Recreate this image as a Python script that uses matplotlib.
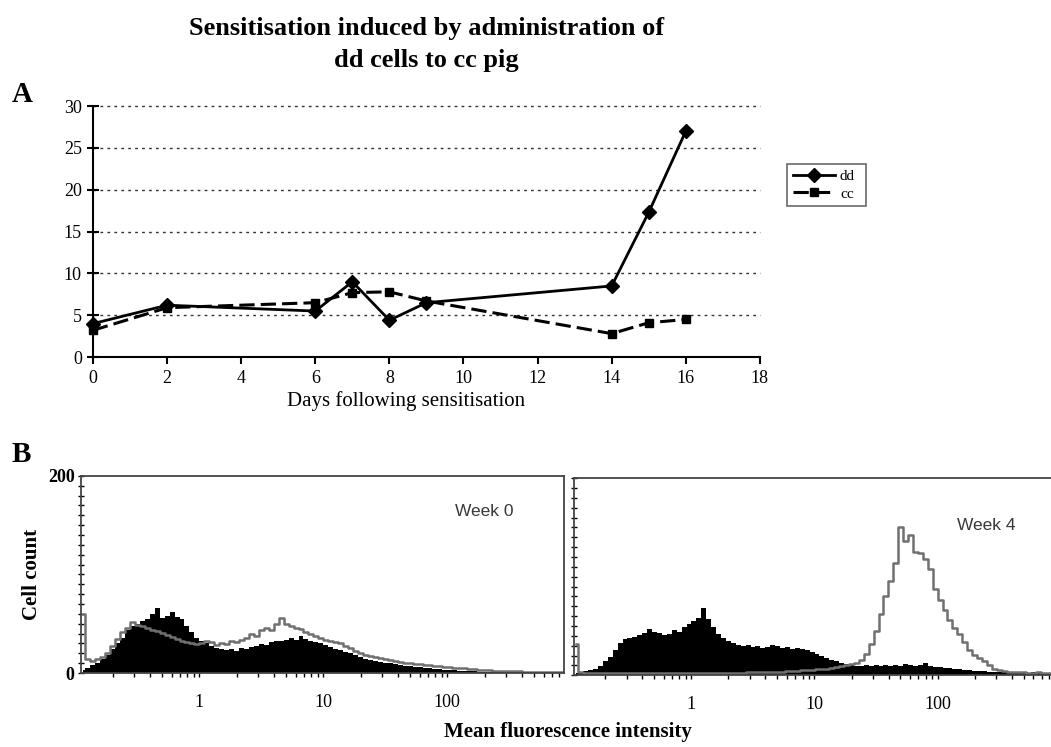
import numpy as np
import matplotlib
matplotlib.use('Agg')
import matplotlib.pyplot as plt
from matplotlib.ticker import LogLocator, NullFormatter, FixedLocator, MultipleLocator

plt.rcParams['font.family'] = ['Liberation Serif', 'DejaVu Serif']

# panel A: days following sensitisation
days = [0, 2, 6, 7, 8, 9, 14, 15, 16]
dd_vals = [4.0, 6.2, 5.5, 9.0, 4.4, 6.5, 8.5, 17.3, 27.0]
cc_vals = [3.2, 5.9, 6.5, 7.7, 7.8, 6.7, 2.8, 4.1, 4.5]

# panel B: histogram channels (log10 of fluorescence, bin centres)
log_start = -0.94
log_step = 0.04

week0_black = [3, 5, 8, 10, 14, 18, 24, 30, 36, 44,
               48, 50, 53, 55, 60, 66, 56, 58, 62, 57,
               55, 48, 42, 36, 32, 30, 27, 25, 24, 23,
               24, 22, 25, 24, 26, 27, 29, 28, 31, 32,
               33, 34, 36, 34, 38, 35, 33, 31, 30, 28,
               26, 24, 23, 21, 20, 18, 16, 14, 13, 12,
               11, 10, 10, 9, 8, 7, 7, 6, 6, 5,
               5, 4, 4, 3, 3, 3, 2, 2, 2, 2,
               1, 1, 1, 1, 1, 1, 1, 1, 1, 1,
               1, 1, 1, 1, 1, 1, 1, 1]
week0_grey = [60, 14, 12, 14, 16, 20, 27, 35, 42, 46,
              52, 49, 48, 46, 44, 43, 41, 39, 37, 35,
              33, 31, 30, 29, 30, 33, 31, 28, 30, 29,
              32, 31, 34, 36, 40, 38, 44, 46, 44, 50,
              56, 50, 48, 46, 45, 42, 40, 38, 36, 34,
              33, 31, 30, 27, 25, 22, 20, 18, 17, 16,
              15, 14, 13, 12, 11, 10, 10, 9, 9, 8,
              8, 7, 7, 6, 6, 5, 5, 5, 4, 4,
              3, 3, 3, 2, 2, 2, 2, 2, 2, 1,
              1, 1, 1, 1, 1, 1, 1, 1]
week4_black = [2, 3, 4, 5, 6, 9, 14, 19, 26, 33,
               37, 38, 39, 41, 43, 47, 44, 43, 41, 42,
               46, 44, 49, 52, 55, 58, 68, 57, 49, 42,
               38, 35, 33, 31, 30, 31, 29, 30, 28, 29,
               31, 30, 28, 29, 27, 28, 27, 26, 24, 22,
               20, 18, 16, 14, 12, 11, 10, 9, 9, 10,
               9, 10, 9, 10, 9, 10, 9, 11, 10, 9,
               10, 12, 9, 8, 8, 7, 7, 6, 6, 5,
               5, 4, 4, 4, 3, 3, 3, 3, 3, 2,
               3, 2, 2, 3, 2, 2, 2, 2]
week4_grey = [32, 3, 2, 2, 2, 2, 2, 2, 2, 2,
              2, 2, 2, 2, 2, 2, 2, 2, 2, 2,
              2, 2, 2, 2, 2, 2, 2, 2, 2, 2,
              2, 2, 2, 2, 2, 3, 3, 3, 3, 3,
              3, 3, 3, 4, 4, 4, 5, 5, 5, 6,
              6, 6, 7, 8, 9, 10, 11, 12, 15, 22,
              32, 45, 62, 80, 96, 114, 150, 136, 142, 125,
              124, 118, 108, 88, 76, 66, 56, 48, 42, 34,
              26, 21, 18, 14, 10, 6, 5, 4, 3, 3,
              3, 3, 2, 2, 3, 2, 2, 2]

fig = plt.figure(figsize=(10.51, 7.47), dpi=100)

# ---- panel A
axA = fig.add_axes([0.0885, 0.522, 0.6345, 0.336])
axA.plot(days, dd_vals, color='black', lw=2, marker='D', ms=7, label='dd')
axA.plot(days, cc_vals, color='black', lw=2.2, dashes=(5, 2), marker='s', ms=6, label='cc')
axA.set_xlim(0, 18)
axA.set_ylim(0, 30)
axA.set_xticks(range(0, 19, 2))
axA.set_yticks(range(0, 31, 5))
for yv in range(5, 31, 5):
    axA.axhline(yv, color='#333333', lw=1, ls=(0, (2, 3)), zorder=0)
axA.spines['top'].set_visible(False)
axA.spines['right'].set_visible(False)
axA.spines['left'].set_linewidth(1.5)
axA.spines['bottom'].set_linewidth(1.5)
axA.tick_params(axis='y', direction='inout', length=8, width=1.5, labelsize=13, pad=4)
axA.tick_params(axis='x', direction='out', length=5, width=1.5, labelsize=13, pad=4)
axA.set_xlabel('Days following sensitisation', fontsize=15, labelpad=3)
axA.xaxis.label.set_x(0.47)
for ln in axA.lines:
    ln.set_clip_on(False)

leg = fig.legend(handles=axA.lines[:2], labels=['dd', 'cc'],
                 loc='lower left', bbox_to_anchor=(0.749, 0.724, 0.075, 0.058),
                 mode='expand', borderaxespad=0, fontsize=11, frameon=True,
                 fancybox=False, edgecolor='#444444', handlelength=2.8,
                 borderpad=0.35, labelspacing=0.25, handletextpad=0.3)
leg.get_frame().set_linewidth(1.2)

fig.text(0.406, 1 - 28 / 747, 'Sensitisation induced by administration of',
         ha='center', va='center', fontsize=19, fontweight='bold')
fig.text(0.406, 1 - 60 / 747, 'dd cells to cc pig',
         ha='center', va='center', fontsize=19, fontweight='bold')
fig.text(0.011, 0.873, 'A', fontsize=21, fontweight='bold', va='center')
fig.text(0.011, 0.391, 'B', fontsize=21, fontweight='bold', va='center')

# ---- panel B
n_bins = len(week0_black)
centres = log_start + log_step * np.arange(n_bins)
xs = 10 ** centres


def histo(ax, black, grey, label, lx, ly):
    ax.fill_between(xs, 0, black, step='mid', color='black', lw=0)
    ax.step(xs, grey, where='mid', color='#707070', lw=1.8)
    ax.set_xscale('log')
    ax.set_xlim(10 ** -0.955, 10 ** 2.945)
    ax.set_ylim(0, 200)
    for s in ax.spines.values():
        s.set_color('#444444')
        s.set_linewidth(1.3)
    ax.xaxis.set_major_locator(FixedLocator([1, 10, 100]))
    ax.xaxis.set_minor_locator(LogLocator(base=10, subs=np.arange(2, 10)))
    ax.xaxis.set_minor_formatter(NullFormatter())
    ax.set_xticklabels(['1', '10', '100'])
    ax.tick_params(axis='x', which='both', direction='out', length=3, width=1,
                   labelsize=13, pad=12)
    ax.yaxis.set_minor_locator(MultipleLocator(10))
    ax.tick_params(axis='y', which='minor', direction='inout', length=4, width=1)
    ax.tick_params(axis='y', which='major', direction='inout', length=5, width=1)
    ax.text(lx, ly, label, transform=ax.transAxes, fontsize=12.5,
            family=['Liberation Sans', 'DejaVu Sans'], color='#383838', ha='center', va='center')


axB0 = fig.add_axes([0.077, 0.099, 0.460, 0.264])
histo(axB0, week0_black, week0_grey, 'Week 0', 0.835, 0.82)
axB0.set_yticks([0, 200])
axB0.set_yticklabels(['0', '200'], fontsize=13, fontweight='bold')
axB0.tick_params(axis='y', which='major', pad=2)
axB0.set_ylabel('Cell count', fontsize=15, fontweight='bold', labelpad=4)

axB4 = fig.add_axes([0.546, 0.096, 0.4567, 0.264])
histo(axB4, week4_black, week4_grey, 'Week 4', 0.86, 0.76)
axB4.set_yticks([0, 200])
axB4.set_yticklabels([])

fig.text(0.54, 0.02, 'Mean fluorescence intensity', ha='center', va='center',
         fontsize=15, fontweight='bold')

fig.savefig('out.png', dpi=100)
